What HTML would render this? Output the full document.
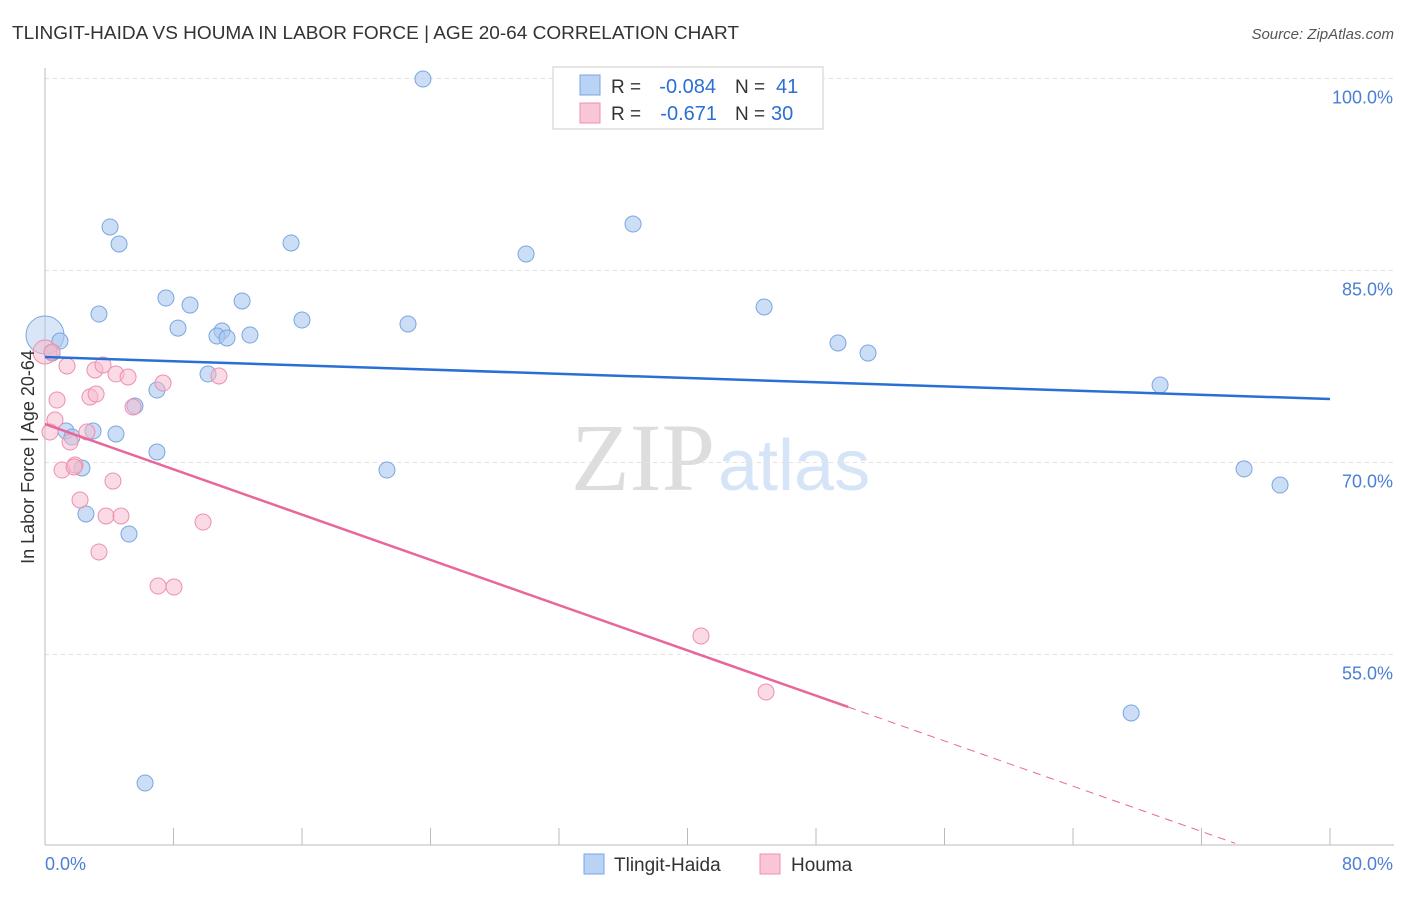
<!DOCTYPE html>
<html><head><meta charset="utf-8"><style>
body{margin:0;background:#fff;font-family:"Liberation Sans",sans-serif}
svg text{font-family:"Liberation Sans",sans-serif}
</style></head><body>
<svg id="c" width="1406" height="892" viewBox="0 0 1406 892">
<text x="12" y="39" font-size="18" fill="#333" textLength="727" lengthAdjust="spacingAndGlyphs">TLINGIT-HAIDA VS HOUMA IN LABOR FORCE | AGE 20-64 CORRELATION CHART</text>
<text x="1394" y="39" font-size="15" fill="#555" text-anchor="end" font-style="italic">Source: ZipAtlas.com</text>
<text x="715" y="490" font-size="96" fill="#ddd" text-anchor="end" style="font-family:'Liberation Serif',serif">ZIP</text>
<text x="718" y="490" font-size="72" fill="#d6e4f7">atlas</text>
<g id="grid"></g><g id="pts"></g><g id="trend"></g>
<text transform="translate(34,457) rotate(-90)" font-size="18" fill="#333" text-anchor="middle">In Labor Force | Age 20-64</text>
<g>
<rect x="553" y="67" width="270" height="62" fill="#fff" stroke="#ccc"/>
<rect x="580" y="75" width="20" height="20" fill="#b9d3f5" stroke="#7aa6e0"/>
<rect x="580" y="103" width="20" height="20" fill="#f9c6d6" stroke="#ee8fae"/>
<text x="611" y="93" font-size="19" fill="#333">R =</text>
<text x="716" y="93" font-size="20" fill="#2a6fd4" text-anchor="end">-0.084</text>
<text x="735" y="93" font-size="19" fill="#333">N =</text>
<text x="776" y="93" font-size="20" fill="#2a6fd4">41</text>
<text x="611" y="120" font-size="19" fill="#333">R =</text>
<text x="717" y="120" font-size="20" fill="#2a6fd4" text-anchor="end">-0.671</text>
<text x="735" y="120" font-size="19" fill="#333">N =</text>
<text x="771" y="120" font-size="20" fill="#2a6fd4">30</text>
</g>
<g>
<rect x="584" y="854" width="20" height="20" fill="#b9d3f5" stroke="#7aa6e0"/>
<text x="614" y="871" font-size="19" fill="#333">Tlingit-Haida</text>
<rect x="760" y="854" width="20" height="20" fill="#f9c6d6" stroke="#ee8fae"/>
<text x="791" y="871" font-size="19" fill="#333">Houma</text>
</g>
</svg>
<script>
const yTicks=[100,85,70,55];
const yTickLabels=["100.0%","85.0%","70.0%","55.0%"];
const xTicks=[0,8,16,24,32,40,48,56,64,72,80];
const blueX=[0,0.93,0.44,4.05,4.61,3.36,7.53,9.03,8.28,12.27,11.02,10.71,11.33,12.76,15.32,16.0,22.6,23.53,35.05,29.95,36.61,44.77,49.37,51.24,69.42,74.65,76.89,67.62,6.23,10.15,6.97,5.6,1.31,1.68,2.99,4.42,6.97,2.3,21.29,2.55,5.23];
const blueY=[79.96,79.49,78.55,88.4,87.07,81.6,82.85,82.3,80.5,82.62,80.27,79.88,79.73,79.96,87.15,81.13,80.82,99.96,99.88,86.29,88.63,82.15,79.34,78.55,76.05,69.5,68.24,50.43,44.96,76.91,75.66,74.41,72.46,71.99,72.46,72.23,70.82,69.57,69.41,65.98,64.41];
const pinkX=[0,0.44,0.62,0.75,0.31,1.37,1.56,1.06,1.87,1.81,2.18,2.61,2.8,3.18,3.11,3.61,4.42,5.17,5.48,7.35,10.83,4.23,3.8,4.73,3.36,9.84,7.04,8.03,40.84,44.89];
const pinkY=[78.63,78.63,73.32,74.88,72.38,77.54,71.6,69.41,69.8,69.65,67.07,72.38,75.12,75.35,77.23,77.62,76.91,76.68,74.34,76.21,76.76,68.55,65.82,65.82,63.01,65.35,60.35,60.27,56.45,52.07];
const blueTrend=[78.24,74.96];
const pinkTrend=[73.0,-0.442];
const NS="http://www.w3.org/2000/svg";
const X=v=>45+v*1285/80, Y=v=>78.5+(100-v)*12.8;
function mk(t,a,p){const e=document.createElementNS(NS,t);for(const k in a)e.setAttribute(k,a[k]);p.appendChild(e);return e;}
const g=document.getElementById('grid');
yTicks.forEach((t,i)=>{const l=mk('line',{x1:45,x2:1394,y1:Y(t),y2:Y(t),stroke:'#e3e3e3','stroke-dasharray':'4,4'},g);


const tx=mk('text',{x:1393,y:Y(t)+25,'font-size':18,fill:'#4a7fd4','text-anchor':'end'},g);tx.textContent=yTickLabels[i];

});
const ax=mk('line',{x1:45,x2:45,y1:68,y2:845,stroke:'#bbb'},g);


const bx=mk('line',{x1:45,x2:1394,y1:845,y2:845,stroke:'#bbb'},g);


xTicks.forEach(t=>{const l=mk('line',{x1:X(t),x2:X(t),y1:828,y2:845,stroke:'#bbb'},g);

});
[["0.0%",45,'start'],["80.0%",1393,'end']].forEach(a=>{const t=mk('text',{x:a[1],y:870,'font-size':18,fill:'#4a7fd4','text-anchor':a[2]},g);t.textContent=a[0];

});
const p=document.getElementById('pts');
blueX.forEach((x,i)=>{const c=mk('circle',{cx:X(x),cy:Y(blueY[i]),r:i==0?19:8,fill:'#a8c8f0','fill-opacity':i==0?0.45:0.6,stroke:'#7aa6e0'},p);

});
pinkX.forEach((x,i)=>{const c=mk('circle',{cx:X(x),cy:Y(pinkY[i]),r:i==0?12:8,fill:'#f6b8cb','fill-opacity':0.5,stroke:'#ee8fae'},p);

});
const tr=document.getElementById('trend');
const b=mk('line',{x1:X(0),y1:Y(blueTrend[0]),x2:X(80),y2:Y(blueTrend[1]),stroke:'#2a6fd4','stroke-width':2.5},tr);


const pf=x=>pinkTrend[0]+pinkTrend[1]*x;
const ps=mk('line',{x1:X(0),y1:Y(pf(0)),x2:X(50),y2:Y(pf(50)),stroke:'#e8679a','stroke-width':2.5},tr);


const pd=mk('line',{x1:X(50),y1:Y(pf(50)),x2:X(74.1),y2:Y(pf(74.1)),stroke:'#e8679a','stroke-width':1,'stroke-dasharray':'8,6'},tr);


</script>
</body></html>
